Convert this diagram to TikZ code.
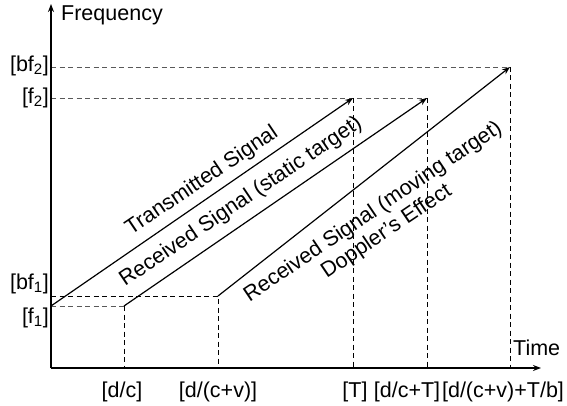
\documentclass[tikz,border=0pt]{standalone}
\usepackage{fontspec}
\setmainfont{Liberation Sans}
\usetikzlibrary{arrows.meta}
\begin{document}
\begin{tikzpicture}[x=1pt,y=-1pt,
  font=\fontsize{21.5}{24}\selectfont,
  axis/.style={line width=1.5pt,-{Stealth[length=8pt,width=6pt]}},
  sig/.style={line width=1.2pt,-{Stealth[length=8pt,width=6pt]}},
  dsh/.style={line width=0.9pt,dash pattern=on 5pt off 3.5pt,black},
  dshg/.style={line width=0.9pt,dash pattern=on 5pt off 3.5pt,black!65},
  lbl/.style={inner sep=0pt,anchor=east},
  tlbl/.style={inner sep=0pt},
  slbl/.style={inner sep=0pt,rotate=34,align=center}]
\useasboundingbox (0,0) rectangle (567,406);
% key points
\coordinate (O) at (51,368);
\coordinate (ytop) at (51,4);
\coordinate (xend) at (541,368);
\coordinate (F1) at (51,306);
\coordinate (BF1) at (51,296);
\coordinate (F2) at (51,98);
\coordinate (BF2) at (51,67);
\coordinate (A) at (124,306);
\coordinate (B) at (218,296);
\coordinate (Tt) at (353,98);
\coordinate (St) at (427,98);
\coordinate (Mt) at (510,67);
\coordinate (xA) at (124,368);
\coordinate (xB) at (218,368);
\coordinate (xT) at (353,368);
\coordinate (xS) at (427,368);
\coordinate (xM) at (510,368);
% dashed guides
\draw[dshg] (F1) -- (A);
\draw[dsh] (A) -- (xA);
\draw[dsh] (BF1) -- (B) -- (xB);
\draw[dshg] (F2) -- (St);
\draw[dsh] (St) -- (xS);
\draw[dsh] (Tt) -- (xT);
\draw[dshg] (BF2) -- (Mt);
\draw[dsh] (Mt) -- (xM);
% axes
\draw[axis] (O) -- (ytop);
\draw[axis] (O) -- (xend);
% signals
\draw[sig] (F1) -- (Tt);
\draw[sig] (A) -- (St);
\draw[sig] (B) -- (Mt);
% axis titles
\node[tlbl,anchor=west] (freq) at (61,15) {Frequency};
\node[tlbl,anchor=west] (time) at (513,348) {Time};
% y labels
\node[lbl] (lbf2) at (49,66) {[bf\textsubscript{2}]};
\node[lbl] (lf2) at (49,98) {[f\textsubscript{2}]};
\node[lbl] (lbf1) at (49,284) {[bf\textsubscript{1}]};
\node[lbl] (lf1) at (49,318) {[f\textsubscript{1}]};
% x labels
\node[tlbl] (ldc) at (122,392) {[d/c]};
\node[tlbl] (ldcv) at (218,392) {[d/(c+v)]};
\node[tlbl] (lT) at (355,392) {[T]};
\node[tlbl] (ldcT) at (407,392) {[d/c+T]};
\node[tlbl] (ldcvT) at (503,392) {[d/(c+v)+T/b]};
% signal labels
\node[slbl] (ts) at (202,181) {Transmitted Signal};
\node[slbl] (rs) at (241,202) {Received Signal (static target)};
\node[slbl] (rm) at (380,222) {Received Signal (moving target)\\Doppler’s Effect};
\end{tikzpicture}
\end{document}
